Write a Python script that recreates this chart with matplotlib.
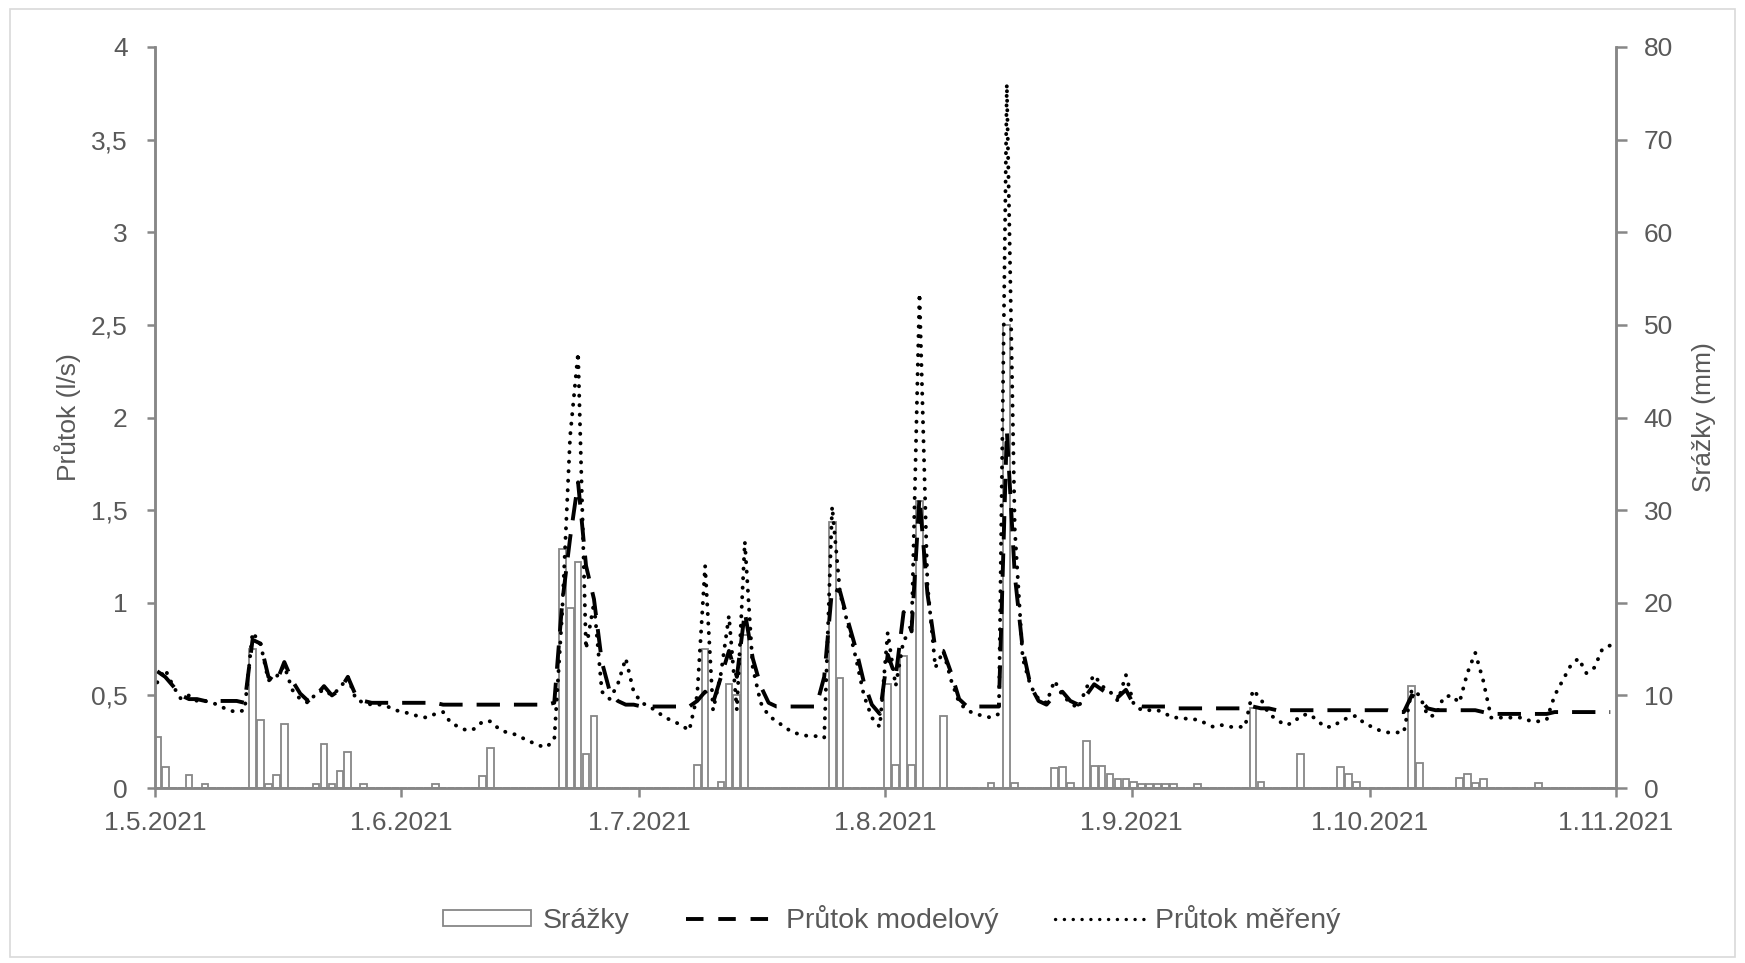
import numpy as np
import pandas as pd
import matplotlib
matplotlib.use('Agg')
import matplotlib.pyplot as plt
import matplotlib.dates as mdates
from matplotlib.patches import Rectangle
from matplotlib.lines import Line2D
from matplotlib.ticker import FuncFormatter, MultipleLocator

plt.rcParams['font.family'] = ['Liberation Sans', 'DejaVu Sans']

# denni hodnoty 1.5.2021 - 31.10.2021 (mereni v 7:00)
dny = pd.date_range('2021-05-01 07:00', periods=184, freq='D')

# srazky (mm) - jen dny se srazkou, index dne od 1.5.
srazky_den = [0, 1, 4, 6, 12, 13, 14, 15, 16, 20, 21, 22, 23, 24, 26, 35, 41, 42,
              51, 52, 53, 54, 55, 68, 69, 71, 72, 73, 74, 85, 86, 92, 93, 94, 95, 96,
              99, 105, 107, 108, 113, 114, 115, 117, 118, 119, 120, 121, 122, 123,
              124, 125, 126, 127, 128, 131, 138, 139, 144, 149, 150, 151, 158, 159,
              164, 165, 166, 167, 174]
srazky_mm = [5.5, 2.3, 1.4, 0.4, 15, 7.3, 0.4, 1.4, 6.9, 0.4, 4.7, 0.4, 1.8, 3.9, 0.4, 0.4, 1.3, 4.3,
             25.8, 19.4, 24.4, 3.7, 7.8, 2.5, 15, 0.6, 11.2, 10, 16.5, 28.7, 11.9, 11.2, 2.5, 14.3, 2.5, 31,
             7.8, 0.5, 50, 0.5, 2.2, 2.3, 0.5, 5.1, 2.4, 2.4, 1.5, 1.0, 1.0, 0.65,
             0.4, 0.4, 0.4, 0.4, 0.4, 0.4, 8.6, 0.7, 3.7, 2.3, 1.5, 0.7, 11, 2.7,
             1.1, 1.5, 0.5, 1.0, 0.5]

# prutok modelovy (l/s)
model_kveten = [0.63, 0.60, 0.55, 0.50, 0.48, 0.48, 0.47, 0.47, 0.47, 0.47,
                0.47, 0.46, 0.80, 0.78, 0.60, 0.57, 0.68, 0.58, 0.51, 0.47,
                0.50, 0.55, 0.50, 0.53, 0.60, 0.50, 0.47, 0.46, 0.46, 0.46, 0.46]
model_cerven = [0.46, 0.46, 0.46, 0.46, 0.46, 0.45, 0.45, 0.45, 0.45, 0.45,
                0.45, 0.45, 0.45, 0.45, 0.45, 0.45, 0.45, 0.45, 0.45, 0.46,
                1.00, 1.35, 1.65, 1.20, 1.02, 0.68, 0.52, 0.47, 0.45, 0.45]
model_cervenec = [0.44, 0.44, 0.44, 0.44, 0.44, 0.44, 0.44, 0.47, 0.52, 0.46,
                  0.60, 0.74, 0.60, 0.95, 0.70, 0.55, 0.46, 0.44, 0.44, 0.44,
                  0.44, 0.44, 0.44, 0.60, 1.08, 1.06, 0.90, 0.75, 0.57, 0.45, 0.40]
model_srpen = [0.72, 0.60, 0.95, 0.85, 1.57, 1.05, 0.75, 0.74, 0.62, 0.48,
               0.44, 0.44, 0.44, 0.44, 0.44, 1.93, 1.15, 0.75, 0.55, 0.47,
               0.45, 0.50, 0.52, 0.47, 0.45, 0.50, 0.56, 0.53, 0.50, 0.49, 0.53]
model_zari = [0.45, 0.44, 0.44, 0.44, 0.44, 0.43, 0.43, 0.43, 0.43, 0.43,
              0.43, 0.43, 0.43, 0.43, 0.43, 0.44, 0.43, 0.43, 0.42, 0.42,
              0.42, 0.42, 0.42, 0.42, 0.42, 0.42, 0.42, 0.42, 0.42, 0.42]
model_rijen = [0.42, 0.42, 0.42, 0.41, 0.41, 0.50, 0.48, 0.43, 0.42, 0.42,
               0.42, 0.42, 0.42, 0.42, 0.41, 0.40, 0.40, 0.40, 0.40, 0.40,
               0.40, 0.40, 0.40, 0.41, 0.41, 0.41, 0.41, 0.41, 0.41, 0.41, 0.41]

# prutok mereny (l/s)
mereny_kveten = [0.57, 0.64, 0.55, 0.48, 0.50, 0.47, 0.47, 0.46, 0.44, 0.42,
                 0.41, 0.42, 0.84, 0.78, 0.58, 0.60, 0.66, 0.53, 0.48, 0.46,
                 0.51, 0.53, 0.50, 0.54, 0.60, 0.48, 0.46, 0.45, 0.45, 0.44, 0.42]
mereny_cerven = [0.41, 0.40, 0.385, 0.38, 0.40, 0.41, 0.35, 0.33, 0.31, 0.32,
                 0.36, 0.36, 0.32, 0.30, 0.29, 0.27, 0.25, 0.23, 0.22, 0.26,
                 0.95, 1.90, 2.35, 0.75, 1.00, 0.52, 0.48, 0.56, 0.70, 0.52]
mereny_cervenec = [0.46, 0.44, 0.41, 0.38, 0.36, 0.34, 0.31, 0.50, 1.20, 0.42,
                   0.62, 0.93, 0.42, 1.33, 0.65, 0.46, 0.39, 0.36, 0.33, 0.30,
                   0.29, 0.28, 0.28, 0.27, 1.52, 1.05, 0.88, 0.70, 0.50, 0.38, 0.33]
mereny_srpen = [0.84, 0.55, 0.80, 0.84, 2.67, 1.10, 0.65, 0.74, 0.58, 0.46,
                0.42, 0.40, 0.39, 0.38, 0.40, 3.80, 1.40, 0.70, 0.55, 0.48,
                0.46, 0.58, 0.50, 0.46, 0.43, 0.54, 0.61, 0.55, 0.52, 0.47, 0.61]
mereny_zari = [0.45, 0.42, 0.42, 0.42, 0.40, 0.38, 0.38, 0.37, 0.37, 0.35,
               0.33, 0.34, 0.33, 0.33, 0.33, 0.53, 0.48, 0.40, 0.37, 0.34,
               0.35, 0.39, 0.40, 0.37, 0.33, 0.33, 0.36, 0.38, 0.39, 0.35]
mereny_rijen = [0.33, 0.31, 0.30, 0.30, 0.30, 0.53, 0.50, 0.39, 0.39, 0.49,
                0.50, 0.46, 0.62, 0.73, 0.58, 0.38, 0.38, 0.38, 0.38, 0.38,
                0.36, 0.36, 0.37, 0.50, 0.58, 0.66, 0.70, 0.62, 0.65, 0.75, 0.77]

prutok_model = model_kveten + model_cerven + model_cervenec + model_srpen + model_zari + model_rijen
prutok_mereny = mereny_kveten + mereny_cerven + mereny_cervenec + mereny_srpen + mereny_zari + mereny_rijen

srazky = np.zeros(len(dny))
srazky[srazky_den] = srazky_mm

seda = '#878787'
text_seda = '#595959'
carkovana = (0, (6, 3.6))
teckovana = (0, (0.05, 2.4))

fig = plt.figure(figsize=(17.45, 9.63), dpi=100)
fig.patches.append(Rectangle((0.006, 0.006), 0.988, 0.985, transform=fig.transFigure,
                             fill=False, edgecolor='#d9d9d9', linewidth=1.2))

ax = fig.add_axes([0.0888, 0.1817, 0.8372, 0.7695])
ax2 = ax.twinx()

ax2.bar(dny, srazky, width=0.85, color='white', edgecolor=seda, linewidth=1.3)
ax.plot(dny, prutok_model, color='black', linewidth=2.8, linestyle=carkovana)
ax.plot(dny, prutok_mereny, color='black', linewidth=2.8, linestyle=teckovana,
        dash_capstyle='round')

ax.set_zorder(ax2.get_zorder() + 1)
ax.patch.set_visible(False)

ax.set_xlim(pd.Timestamp('2021-05-01'), pd.Timestamp('2021-11-01'))
ax.set_ylim(0, 4)
ax2.set_ylim(0, 80)
ax.yaxis.set_major_locator(MultipleLocator(0.5))
ax2.yaxis.set_major_locator(MultipleLocator(10))
ax.yaxis.set_major_formatter(FuncFormatter(lambda v, p: f'{v:g}'.replace('.', ',')))

ax.xaxis.set_major_locator(mdates.MonthLocator())
ax.xaxis.set_major_formatter(FuncFormatter(
    lambda v, p: f'{mdates.num2date(v).day}.{mdates.num2date(v).month}.{mdates.num2date(v).year}'))

for a in (ax, ax2):
    for s in a.spines.values():
        s.set_color(seda)
        s.set_linewidth(1.8)
    a.spines['top'].set_visible(False)
    a.tick_params(colors=seda, labelcolor=text_seda, labelsize=19, width=1.8)

ax.tick_params(axis='x', length=6.5, pad=10)
ax.tick_params(axis='y', length=5.5, pad=14)
ax2.tick_params(axis='y', length=8, pad=12)

ax.set_ylabel('Průtok (l/s)', color=text_seda, fontsize=19, labelpad=7)
ax2.set_ylabel('Srážky (mm)', color=text_seda, fontsize=19, labelpad=14, rotation=90)

handles = [
    Rectangle((0, 0), 1, 1, facecolor='white', edgecolor=seda, linewidth=1.3),
    Line2D([], [], color='black', linewidth=2.8, linestyle=(0, (4.5, 3.8))),
    Line2D([], [], color='black', linewidth=2.4, linestyle=(0, (0.05, 2.6)), dash_capstyle='round'),
]
fig.legend(handles, ['Srážky', 'Průtok modelový', 'Průtok měřený'],
           loc='center', bbox_to_anchor=(0.511, 0.045), ncol=3, frameon=False,
           fontsize=20.5, labelcolor=text_seda, handlelength=3.1, handleheight=0.45,
           columnspacing=2.0, handletextpad=0.4)

fig.savefig('out.png', dpi=100)
